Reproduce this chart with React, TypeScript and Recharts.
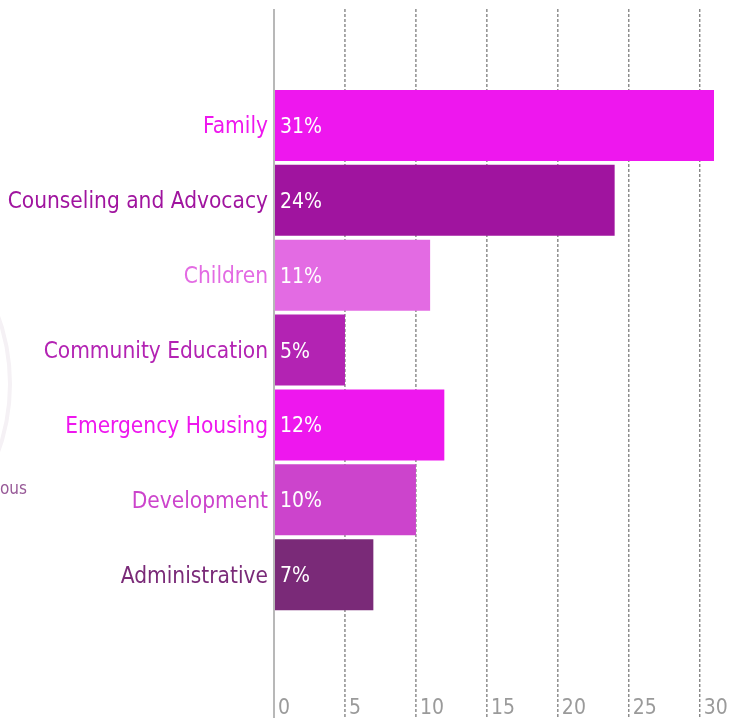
import { Bar, BarChart, CartesianGrid, Cell, LabelList, XAxis, YAxis } from "recharts";

const categories = [
  "Family",
  "Counseling and Advocacy",
  "Children",
  "Community Education",
  "Emergency Housing",
  "Development",
  "Administrative",
];
const shares = [31, 24, 11, 5, 12, 10, 7];
const colors = ["#ee17ee", "#a0149f", "#e36be3", "#b323b3", "#ee17ee", "#cc44cc", "#7a2a78"];
const xTicks = [0, 5, 10, 15, 20, 25, 30];

const data = categories.map((name, i) => ({ name, value: shares[i], color: colors[i] }));

const FONT = "'DejaVu Sans Condensed', 'Liberation Sans Narrow', sans-serif";

const CategoryTick = (props: any) => {
  const { x, y, payload, index } = props;
  return (
    <text x={x} y={y} dy={8} textAnchor="end" fontFamily={FONT} fontSize={22.5} fill={colors[index]}>
      {payload.value}
    </text>
  );
};

const ValueTick = (props: any) => {
  const { x, payload } = props;
  return (
    <text x={x + 4} y={714} fontFamily={FONT} fontSize={21} fill="#9a9a9a">
      {payload.value}
    </text>
  );
};

export default function App() {
  return (
    <div style={{ position: "fixed", left: 0, top: 0, width: 738, height: 719 }}>
      <div
        style={{
          position: "absolute",
          left: -396,
          top: 180,
          width: 400,
          height: 400,
          borderRadius: "50%",
          border: "4px solid #f5f1f5",
        }}
      />
      <div
        style={{
          position: "absolute",
          left: 0,
          top: 478,
          fontFamily: FONT,
          fontSize: 17,
          color: "#985a98",
        }}
      >
        ous
      </div>
      <BarChart
        width={738}
        height={719}
        data={data}
        layout="vertical"
        margin={{ top: 9, right: 24, bottom: 0, left: 0 }}
        style={{ position: "absolute", left: 0, top: 0 }}
      >
        <CartesianGrid horizontal={false} verticalValues={xTicks} stroke="#555" strokeDasharray="3 2" />
        <XAxis
          type="number"
          domain={[0, 31]}
          ticks={xTicks}
          height={1}
          axisLine={false}
          tickLine={false}
          tick={<ValueTick />}
          interval={0}
        />
        <YAxis
          type="category"
          dataKey="name"
          width={274}
          padding={{ top: 79, bottom: 106 }}
          axisLine={{ stroke: "#b8b8b8", strokeWidth: 2 }}
          tickLine={false}
          tickSize={0}
          tickMargin={6}
          tick={<CategoryTick />}
          interval={0}
        />
        <Bar dataKey="value" barSize={71} isAnimationActive={false}>
          {data.map((d) => (
            <Cell key={d.name} fill={d.color} />
          ))}
          <LabelList
            dataKey="value"
            position="insideLeft"
            offset={6}
            formatter={(v: any) => `${v}%`}
            fill="#fff"
            style={{ fontFamily: FONT, fontSize: 21 }}
          />
        </Bar>
      </BarChart>
    </div>
  );
}
